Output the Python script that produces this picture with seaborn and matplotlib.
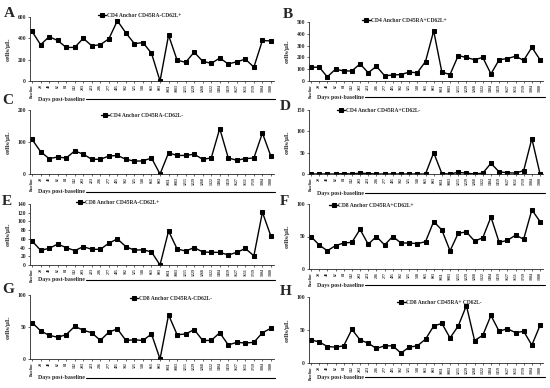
import numpy as np
import pandas as pd
import matplotlib
matplotlib.use('Agg')
import matplotlib.pyplot as plt
from matplotlib.lines import Line2D
import seaborn as sns

# 时间点标签
days = ['Baseline', '20', '48', '62', '84', '142', '203', '223', '236', '277', '405', '502',
        '525', '538', '663', '803', '1011', '1083', '1215', '1229', '1268', '1322', '1404',
        '1459', '1627', '1651', '1719', '1804', '1980']

# 各面板数值 (cells/μL)
a_vals = [465, 340, 415, 380, 315, 315, 400, 330, 340, 395, 565, 450, 350, 360, 260, 0,
          430, 195, 175, 270, 185, 165, 215, 160, 180, 205, 130, 380, 375]
b_vals = [115, 118, 35, 100, 85, 85, 145, 70, 125, 45, 50, 55, 75, 70, 165, 425,
          75, 55, 215, 200, 180, 200, 60, 180, 190, 210, 175, 285, 180]
c_vals = [108, 70, 48, 53, 50, 72, 62, 46, 46, 56, 58, 46, 40, 41, 50, 0,
          66, 58, 58, 62, 46, 50, 142, 50, 43, 48, 50, 128, 55]
d_vals = [0, 0, 0, 0, 1, 0, 2, 1, 0, 0, 0, 0, 0, 0, 0, 50,
          1, 0, 4, 2, 0, 2, 25, 5, 3, 2, 8, 83, 0]
e_vals = [55, 34, 38, 48, 40, 33, 42, 36, 36, 50, 60, 42, 34, 35, 30, 0,
          78, 37, 32, 40, 30, 29, 29, 23, 29, 38, 21, 121, 66]
f_vals = [50, 37, 28, 36, 40, 41, 61, 38, 50, 37, 50, 40, 40, 39, 42, 73,
          60, 28, 55, 57, 43, 48, 80, 41, 44, 52, 46, 91, 73]
g_vals = [57, 44, 37, 34, 38, 51, 45, 41, 29, 42, 47, 29, 30, 29, 39, 0,
          69, 38, 39, 46, 29, 29, 41, 22, 26, 25, 26, 41, 48]
h_vals = [35, 32, 25, 24, 26, 51, 35, 30, 22, 26, 26, 15, 24, 26, 36, 56,
          60, 38, 56, 87, 34, 42, 72, 48, 52, 46, 48, 27, 57]

letters = ['A', 'B', 'C', 'D', 'E', 'F', 'G', 'H']
legends = ['CD4 Anchor CD45RA-CD62L+', 'CD4 Anchor CD45RA+CD62L+',
           'CD4 Anchor CD45RA-CD62L-', 'CD4 Anchor CD45RA+CD62L-',
           'CD8 Anchor CD45RA-CD62L+', 'CD8 Anchor CD45RA+CD62L+',
           'CD8 Anchor CD45RA-CD62L-', 'CD8 Anchor CD45RA+ CD62L-']
values = [a_vals, b_vals, c_vals, d_vals, e_vals, f_vals, g_vals, h_vals]
ymaxs = [600, 500, 200, 150, 140, 100, 100, 100]
ysteps = [200, 100, 100, 50, 20, 50, 50, 50]

sns.set_style('ticks')
plt.rcParams['font.family'] = ['Liberation Serif', 'DejaVu Serif']
plt.rcParams['font.weight'] = 'bold'

W, H = 550, 388
fig = plt.figure(figsize=(5.5, 3.88), dpi=100)

# 版面 (像素): 轴左右/上下边界, 图例位置, 字母位置, 横轴说明位置
cols = {0: (29.5, 273.5), 1: (308.5, 542.5)}
ylabel_x = {0: 11, 1: 290}
ybounds = [(17, 81), (22, 81), (110, 174), (110, 174), (204, 265), (204, 269), (295, 359), (297, 363)]
leg_pos = [(0.45, 1.03), (0.41, 1.03), (0.46, 0.92), (0.30, 1.0),
           (0.36, 1.03), (0.27, 0.98), (0.58, 0.95), (0.56, 0.91)]
letter_pos = [(4, 17), (283, 18), (2, 104), (280, 110), (2, 205), (280, 205), (2, 293), (280, 295)]
days_pos = [(38, 99), (317, 97), (38, 192), (317, 193), (38, 280), (317, 285), (38, 378), (317, 377)]
line_end = {0: 275, 1: 545}

day_texts = []
for i in range(8):
    col = i % 2
    x0, x1 = cols[col]
    yt, yb = ybounds[i]
    ax = fig.add_axes([x0 / W, 1 - yb / H, (x1 - x0) / W, (yb - yt) / H])
    df = pd.DataFrame({'pos': np.arange(len(days)), 'val': values[i]})
    sns.lineplot(data=df, x='pos', y='val', ax=ax, color='black', lw=1,
                 marker='s', markersize=3.2, markeredgecolor='black', label=legends[i])
    ax.set_xlim(-0.3, len(days) - 0.7)
    ax.set_ylim(0, ymaxs[i])
    ax.set_yticks(np.arange(0, ymaxs[i] + 1, ysteps[i]))
    ax.set_xticks(np.arange(len(days)))
    ax.set_xticklabels(days, rotation=90, fontsize=2.8)
    ax.tick_params(axis='y', labelsize=4, length=1.5, width=0.5, pad=1)
    ax.tick_params(axis='x', length=1.5, width=0.5, pad=1)
    ax.set_xlabel('')
    ax.set_ylabel('cells/μL', fontsize=5, fontweight='bold')
    ax.yaxis.set_label_coords((ylabel_x[col] - x0) / (x1 - x0), 0.5)
    for s in ['left', 'bottom']:
        ax.spines[s].set_linewidth(0.6)
    sns.despine(ax=ax)
    ax.legend(loc='center', bbox_to_anchor=leg_pos[i], frameon=False, fontsize=4,
              handlelength=1.5, handletextpad=0.1, borderpad=0)
    lx, ly = letter_pos[i]
    fig.text(lx / W, 1 - ly / H, letters[i], fontsize=11, fontweight='bold', va='baseline')
    dx, dy = days_pos[i]
    t = fig.text(dx / W, 1 - dy / H, 'Days post-baseline', fontsize=4.2, fontweight='bold', va='center')
    day_texts.append((t, dy, line_end[col]))

# 横轴说明后面的长线
fig.canvas.draw()
for t, dy, xe in day_texts:
    bb = t.get_window_extent()
    fig.add_artist(Line2D([(bb.x1 + 1) / W, xe / W], [1 - dy / H, 1 - dy / H],
                          color='black', lw=0.8, transform=fig.transFigure))

fig.savefig('out.png', dpi=100)
